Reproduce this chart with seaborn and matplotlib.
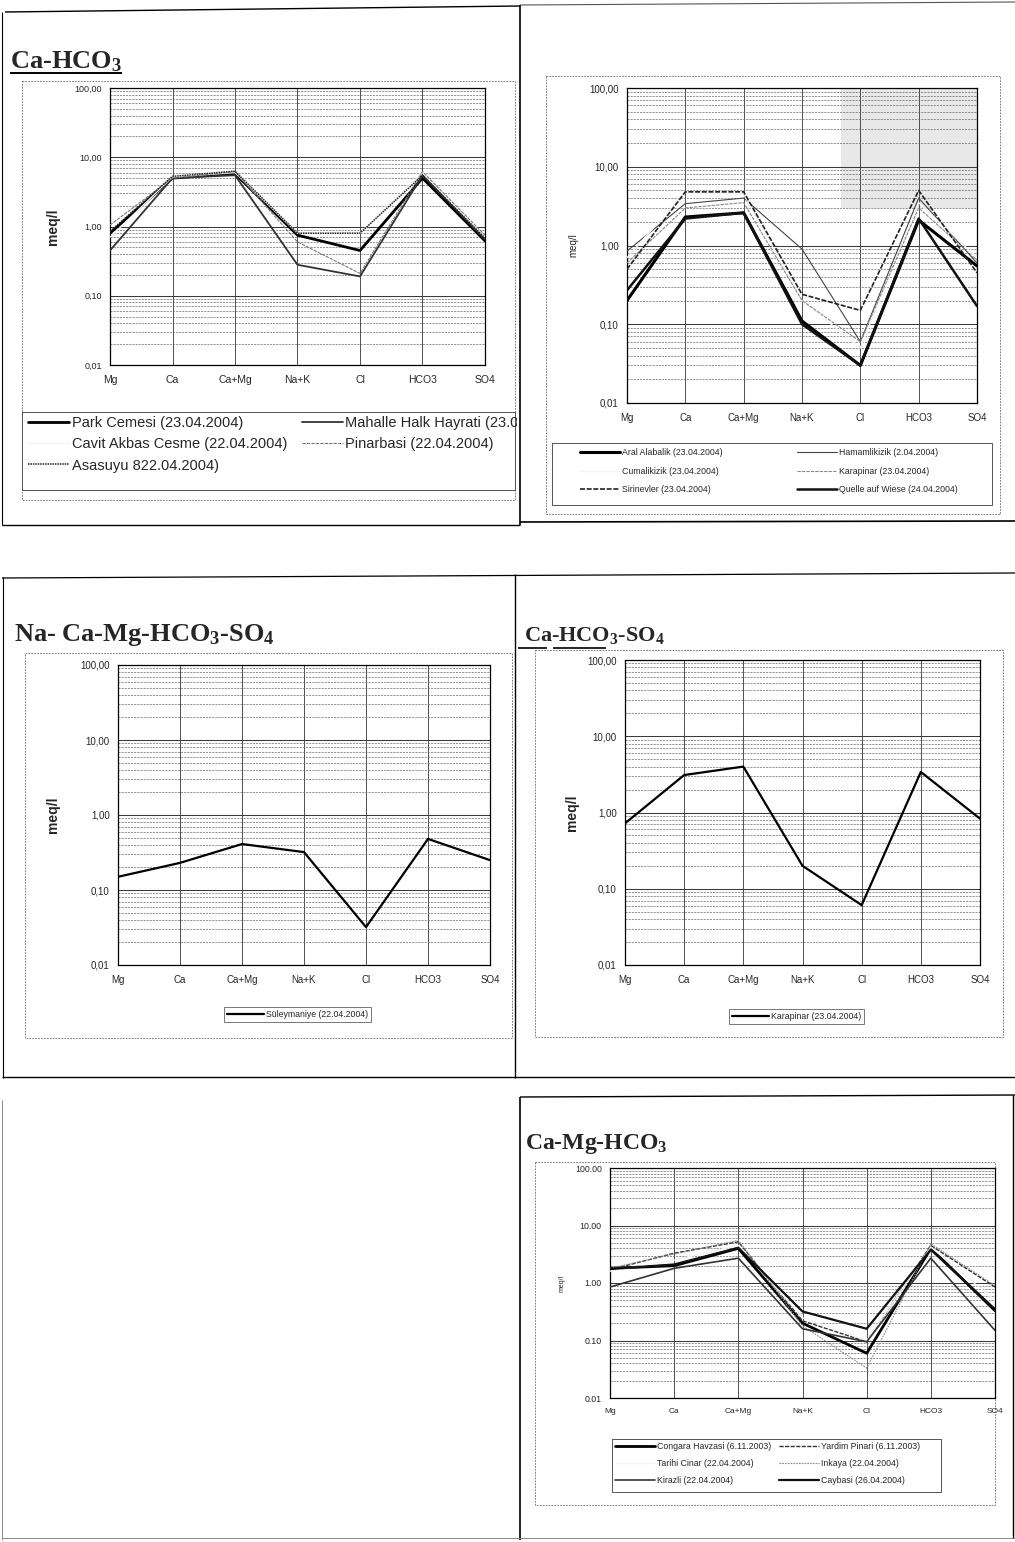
import numpy as np
import pandas as pd
import matplotlib
matplotlib.use("Agg")
import matplotlib.pyplot as plt
import seaborn as sns
from matplotlib.lines import Line2D
from matplotlib.patches import Rectangle
from matplotlib.transforms import Bbox, TransformedBbox
from matplotlib.ticker import LogLocator, FixedLocator, FixedFormatter, NullFormatter

# ---------------------------------------------------------------- data
ions = ["Mg", "Ca", "Ca+Mg", "Na+K", "Cl", "HCO3", "SO4"]

# Ca-HCO3 type waters (meq/l)
park_cemesi = [0.80, 5.0, 5.8, 0.75, 0.45, 5.0, 0.62]
mahalle_halk_hayrati = [0.45, 5.0, 5.5, 0.28, 0.19, 5.5, 0.65]
cavit_akbas_cesme = [0.70, 5.2, 6.0, 0.80, 0.80, 6.0, 0.70]
pinarbasi = [1.05, 5.0, 6.2, 0.60, 0.21, 6.2, 0.75]
asasuyu = [0.85, 5.3, 6.3, 0.80, 0.80, 5.5, 0.68]

# second Ca-HCO3 group
aral_alabalik = [0.20, 2.3, 2.6, 0.11, 0.030, 2.1, 0.55]
hamamlikizik = [0.85, 3.4, 4.0, 0.90, 0.060, 4.0, 0.60]
cumalikizik = [0.70, 4.8, 4.5, 0.20, 0.050, 3.5, 0.70]
karapinar_a = [0.60, 3.0, 3.5, 0.20, 0.060, 3.0, 0.65]
sirinevler = [0.50, 4.8, 4.8, 0.24, 0.150, 5.0, 0.45]
quelle_auf_wiese = [0.27, 2.2, 2.6, 0.10, 0.030, 2.2, 0.17]

# Na-Ca-Mg-HCO3-SO4
suleymaniye = [0.15, 0.23, 0.41, 0.32, 0.032, 0.48, 0.25]

# Ca-HCO3-SO4
karapinar_b = [0.72, 3.1, 4.0, 0.20, 0.061, 3.4, 0.83]

# Ca-Mg-HCO3
congara_havzasi = [1.80, 2.0, 4.0, 0.20, 0.060, 4.0, 0.33]
yardim_pinari = [1.70, 3.3, 5.2, 0.22, 0.095, 4.5, 0.85]
tarihi_cinar = [1.60, 2.5, 4.5, 0.25, 0.100, 4.2, 0.50]
inkaya = [1.80, 3.2, 5.5, 0.18, 0.033, 4.8, 0.90]
kirazli = [0.85, 1.8, 2.7, 0.16, 0.095, 2.7, 0.15]
caybasi = [1.75, 2.1, 4.1, 0.32, 0.160, 3.8, 0.35]

# ---------------------------------------------------------------- style
W, H = 1015, 1542
sns.set_theme(style="white")
plt.rcParams["font.family"] = ["Liberation Sans", "DejaVu Sans"]
plt.rcParams["mathtext.fontset"] = "custom"
plt.rcParams["mathtext.rm"] = "Liberation Serif:bold"
plt.rcParams["mathtext.it"] = "Liberation Serif:bold"
plt.rcParams["mathtext.bf"] = "Liberation Serif:bold"

fig = plt.figure(figsize=(W / 100, H / 100), dpi=100)
fig.patch.set_facecolor("white")

# page overlay in pixel coordinates (origin top-left)
page = fig.add_axes([0, 0, 1, 1])
page.set_xlim(0, W)
page.set_ylim(H, 0)
page.axis("off")
page.patch.set_visible(False)


def seg(x0, y0, x1, y1, lw=1.0, color="black", ls="-"):
    page.plot([x0, x1], [y0, y1], color=color, lw=lw, ls=ls, solid_capstyle="butt")


def rect(x0, y0, x1, y1, lw=0.6, color="#666", ls=(0, (2, 1.5))):
    page.plot([x0, x1, x1, x0, x0], [y0, y0, y1, y1, y0], color=color, lw=lw, ls=ls)


# table lines of the page
seg(5, 12, 520, 6, 1.0)
seg(520, 5, 1015, 2, 0.8, "#555")
seg(2, 12, 2, 525, 0.8)
seg(520, 5, 520, 525, 1.2)
seg(2, 525, 520, 525, 1.0)
seg(520, 522, 1015, 521, 1.2)

seg(2, 578, 1015, 573, 0.9)
seg(3, 577, 3, 1078, 0.8)
seg(515, 574, 515, 1078, 1.0)
seg(2, 1077, 1015, 1077, 1.0)

seg(520, 1097, 1015, 1095, 1.0)
seg(1013, 1095, 1013, 1538, 1.0)
seg(520, 1097, 520, 1540, 1.2)
seg(2, 1100, 2, 1540, 0.6, "#777")
seg(2, 1538, 1015, 1538, 0.6, "#777")

# chart frames
rect(22, 81, 515, 500)
rect(546, 76, 1000, 514)
rect(25, 653, 512, 1038)
rect(535, 650, 1003, 1037)
rect(535, 1162, 995, 1505)

# legend frames
rect(22, 412, 515, 490, lw=0.7, color="#555", ls="-")
rect(552, 443, 992, 505, lw=0.7, color="#555", ls="-")
rect(612, 1439, 941, 1492, lw=0.7, color="#555", ls="-")

# group titles
serif = "Liberation Serif"
page.text(10, 68, r"Ca-HCO$_3$", fontsize=19, family=serif, weight="bold")
seg(10, 73, 122, 73, 1.4)
page.text(14, 641, r"Na- Ca-Mg-HCO$_3$-SO$_4$", fontsize=19, family=serif, weight="bold")
page.text(524, 641, r"Ca-HCO$_3$-SO$_4$", fontsize=16, family=serif, weight="bold")
seg(518, 648, 547, 648, 1.2)
seg(553, 648, 606, 648, 1.2)
page.text(525, 1149, r"Ca-Mg-HCO$_3$", fontsize=17, family=serif, weight="bold")


def add_axes(x0, y0, x1, y1):
    return fig.add_axes([x0 / W, 1 - y1 / H, (x1 - x0) / W, (y1 - y0) / H])


def schoeller(ax, series, styles, sep, tick_fs, x_fs, ylab_fs, ylab_x, ylab_bold=True):
    pos = np.arange(len(ions))
    handles = {}
    for name, vals in series:
        color, lw, ls = styles[name]
        df = pd.DataFrame({"pos": pos, "meq": vals})
        sns.lineplot(data=df, x="pos", y="meq", ax=ax, color=color,
                     linewidth=lw, linestyle=ls, legend=False, zorder=3,
                     estimator=None, sort=False)
        handles[name] = Line2D([], [], color=color, lw=lw, ls=ls)
    ax.set_yscale("log")
    ax.set_ylim(0.01, 100)
    ax.set_xlim(0, len(ions) - 1)
    ax.set_xticks(pos)
    ax.set_xticklabels(ions, fontsize=x_fs)
    ax.yaxis.set_major_locator(FixedLocator([0.01, 0.1, 1, 10, 100]))
    labs = ["0.01", "0.10", "1.00", "10.00", "100.00"]
    if sep == ",":
        labs = [s.replace(".", ",") for s in labs]
    ax.yaxis.set_major_formatter(FixedFormatter(labs))
    ax.yaxis.set_minor_locator(LogLocator(base=10, subs=np.arange(2, 10)))
    ax.yaxis.set_minor_formatter(NullFormatter())
    ax.tick_params(axis="y", which="major", labelsize=tick_fs, length=2, pad=4)
    ax.tick_params(axis="y", which="minor", length=0)
    ax.tick_params(axis="x", length=2, pad=5)
    ax.grid(axis="y", which="major", color="#3a3a3a", lw=0.75, ls="-")
    ax.grid(axis="y", which="minor", color="#666", lw=0.5, ls=(0, (3, 1.5)))
    ax.grid(axis="x", which="major", color="#333", lw=0.6, ls="-")
    ax.set_axisbelow(True)
    for s in ax.spines.values():
        s.set_visible(True)
        s.set_color("black")
        s.set_linewidth(0.9)
    ax.set_xlabel("")
    ax.set_ylabel("meq/l", fontsize=ylab_fs, fontweight="bold" if ylab_bold else "normal")
    ax.yaxis.set_label_coords(ylab_x, 0.5)
    ax.set_facecolor("white")
    return handles


def legend_open(ax, handles, labels, anchor, fs, hl, spacing, colsp, clip_x=None):
    x0, y0 = anchor
    leg = ax.legend([handles[l] for l in labels], labels, loc="upper left",
                    bbox_to_anchor=(x0 / W, 1 - y0 / H),
                    bbox_transform=fig.transFigure, ncol=2,
                    fontsize=fs, frameon=False, handlelength=hl,
                    handletextpad=0.2, labelspacing=spacing,
                    borderpad=0, borderaxespad=0, columnspacing=colsp)
    if clip_x is not None:
        cb = TransformedBbox(Bbox.from_extents(0, 0, clip_x / W, 1), fig.transFigure)
        for art in leg.get_texts():
            art.set_clip_box(cb)
            art.set_clip_on(True)
    return leg


def legend_boxed(ax, handles, labels, box, fs, hl):
    x0, y0, x1, y1 = box
    leg = ax.legend([handles[l] for l in labels], labels, loc="center",
                    bbox_to_anchor=(x0 / W, 1 - y1 / H, (x1 - x0) / W, (y1 - y0) / H),
                    bbox_transform=fig.transFigure, fontsize=fs, frameon=True,
                    fancybox=False, edgecolor="#555", handlelength=hl,
                    handletextpad=0.2, borderpad=0.35, borderaxespad=0)
    leg.get_frame().set_linewidth(0.7)
    return leg


# ---------------------------------------------------------------- panel: Ca-HCO3
light = "#f3f3f3"
ax1 = add_axes(110, 88, 485, 365)
st1 = {
    "Park Cemesi (23.04.2004)": ("black", 2.0, "-"),
    "Mahalle Halk Hayrati (23.04.2004)": ("#333333", 1.3, "-"),
    "Cavit Akbas Cesme (22.04.2004)": (light, 1.0, "-"),
    "Pinarbasi (22.04.2004)": ("#777777", 0.8, (0, (3, 1))),
    "Asasuyu 822.04.2004)": ("#222222", 1.1, (0, (1, 0.6))),
}
s1 = [("Park Cemesi (23.04.2004)", park_cemesi),
      ("Mahalle Halk Hayrati (23.04.2004)", mahalle_halk_hayrati),
      ("Cavit Akbas Cesme (22.04.2004)", cavit_akbas_cesme),
      ("Pinarbasi (22.04.2004)", pinarbasi),
      ("Asasuyu 822.04.2004)", asasuyu)]
h1 = schoeller(ax1, s1, st1, ",", 6.5, 7.5, 10, -0.133)
legend_open(ax1, h1, ["Park Cemesi (23.04.2004)", "Cavit Akbas Cesme (22.04.2004)",
                      "Asasuyu 822.04.2004)", "Mahalle Halk Hayrati (23.04.2004)",
                      "Pinarbasi (22.04.2004)"],
            (28, 416), 10.5, hl=2.8, spacing=0.5, colsp=1.0, clip_x=517)

# ---------------------------------------------------------------- panel: Ca-HCO3 (second group)
ax2 = add_axes(627, 88, 977, 403)
ax2.add_patch(Rectangle((0.61, 0.62), 0.39, 0.38, transform=ax2.transAxes,
                        facecolor="#d9d9d9", alpha=0.6, edgecolor="none", zorder=0))
st2 = {
    "Aral Alabalik (23.04.2004)": ("black", 2.2, "-"),
    "Hamamlikizik (2.04.2004)": ("#444444", 0.8, "-"),
    "Cumalikizik (23.04.2004)": (light, 1.0, "-"),
    "Karapinar (23.04.2004)": ("#888888", 0.8, (0, (3, 1))),
    "Sirinevler (23.04.2004)": ("#222222", 1.2, (0, (3, 1))),
    "Quelle auf Wiese (24.04.2004)": ("#111111", 1.8, "-"),
}
s2 = [("Aral Alabalik (23.04.2004)", aral_alabalik),
      ("Hamamlikizik (2.04.2004)", hamamlikizik),
      ("Cumalikizik (23.04.2004)", cumalikizik),
      ("Karapinar (23.04.2004)", karapinar_a),
      ("Sirinevler (23.04.2004)", sirinevler),
      ("Quelle auf Wiese (24.04.2004)", quelle_auf_wiese)]
h2 = schoeller(ax2, s2, st2, ",", 7, 7, 7, -0.14, ylab_bold=False)
legend_open(ax2, h2, ["Aral Alabalik (23.04.2004)", "Cumalikizik (23.04.2004)",
                      "Sirinevler (23.04.2004)", "Hamamlikizik (2.04.2004)",
                      "Karapinar (23.04.2004)", "Quelle auf Wiese (24.04.2004)"],
            (580, 448), 6.3, hl=4.6, spacing=1.1, colsp=8.5)

# ---------------------------------------------------------------- panel: Na-Ca-Mg-HCO3-SO4
ax3 = add_axes(118, 665, 490, 965)
st3 = {"Süleymaniye (22.04.2004)": ("black", 1.6, "-")}
h3 = schoeller(ax3, [("Süleymaniye (22.04.2004)", suleymaniye)], st3, ",", 7, 7, 10, -0.156)
legend_boxed(ax3, h3, ["Süleymaniye (22.04.2004)"], (218, 1005, 377, 1024), 6.3, hl=4.2)

# ---------------------------------------------------------------- panel: Ca-HCO3-SO4
ax4 = add_axes(625, 660, 980, 965)
st4 = {"Karapinar (23.04.2004)": ("black", 1.6, "-")}
h4 = schoeller(ax4, [("Karapinar (23.04.2004)", karapinar_b)], st4, ",", 7, 7, 10, -0.13)
legend_boxed(ax4, h4, ["Karapinar (23.04.2004)"], (725, 1007, 868, 1026), 6.3, hl=4.2)

# ---------------------------------------------------------------- panel: Ca-Mg-HCO3
ax5 = add_axes(610, 1168, 995, 1398)
st5 = {
    "Congara Havzasi (6.11.2003)": ("black", 2.0, "-"),
    "Yardim Pinari (6.11.2003)": ("#333333", 1.0, (0, (3, 1))),
    "Tarihi Cinar (22.04.2004)": (light, 1.0, "-"),
    "Inkaya (22.04.2004)": ("#888888", 0.8, (0, (1.5, 1))),
    "Kirazli (22.04.2004)": ("#333333", 1.2, "-"),
    "Caybasi (26.04.2004)": ("#111111", 1.6, "-"),
}
s5 = [("Congara Havzasi (6.11.2003)", congara_havzasi),
      ("Yardim Pinari (6.11.2003)", yardim_pinari),
      ("Tarihi Cinar (22.04.2004)", tarihi_cinar),
      ("Inkaya (22.04.2004)", inkaya),
      ("Kirazli (22.04.2004)", kirazli),
      ("Caybasi (26.04.2004)", caybasi)]
h5 = schoeller(ax5, s5, st5, ".", 6.3, 6, 5, -0.115, ylab_bold=False)
legend_open(ax5, h5, ["Congara Havzasi (6.11.2003)", "Tarihi Cinar (22.04.2004)",
                      "Kirazli (22.04.2004)", "Yardim Pinari (6.11.2003)",
                      "Inkaya (22.04.2004)", "Caybasi (26.04.2004)"],
            (615, 1442), 6.3, hl=4.6, spacing=0.9, colsp=0.9)

fig.savefig("out.png", dpi=100, facecolor="white")
